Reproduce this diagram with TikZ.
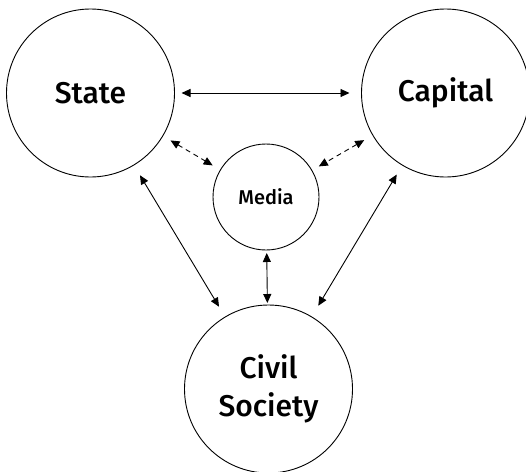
\documentclass[tikz,border=0pt]{standalone}
\usepackage{fontspec}
\setmainfont{Fira Sans}[UprightFont=* Medium]
\usetikzlibrary{arrows.meta}
\begin{document}
\begin{tikzpicture}[x=1pt,y=-1pt,
  actor/.style={circle,draw,line width=0.9pt,inner sep=0pt,outer sep=0pt,align=center},
  big/.style={actor,minimum size=168pt,font=\fontsize{30}{38}\selectfont},
  small/.style={actor,minimum size=106pt,font=\fontsize{20}{24}\selectfont},
  link/.style={line width=0.9pt,{Triangle[length=9pt,width=8pt]}-{Triangle[length=9pt,width=8pt]}},
  weak/.style={link,dashed,dash pattern=on 5pt off 4pt}]
  \useasboundingbox (0,0) rectangle (526,471);
  \node[big] (state) at (90.5,93) {State};
  \node[big] (capital) at (445.5,93) {Capital};
  \node[small] (media) at (266,197) {Media};
  \node[big] (civil) at (268.5,389) {Civil\\Society};
  % strong ties between the three main actors
  \draw[link,shorten <=7pt,shorten >=12pt] (state) -- (capital);
  \draw[link,shorten <=12pt,shorten >=12pt] (state) -- (civil);
  \draw[link,shorten <=11pt,shorten >=13pt] (capital) -- (civil);
  \draw[link,shorten <=3pt,shorten >=2pt] (media) -- (civil);
  % looser ties through the media
  \draw[weak,shorten <=9pt,shorten >=9pt] (state) -- (media);
  \draw[weak,shorten <=10pt,shorten >=8pt] (capital) -- (media);
\end{tikzpicture}
\end{document}
